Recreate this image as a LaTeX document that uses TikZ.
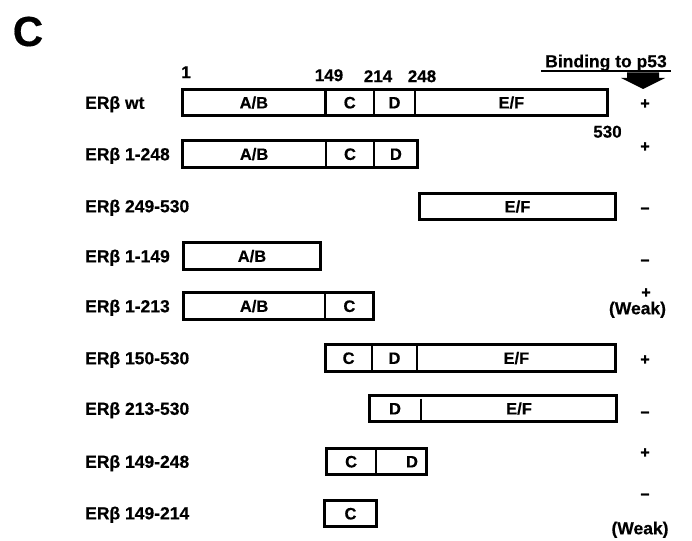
\documentclass[tikz,border=0pt]{standalone}
\usepackage{fontspec}
\setmainfont{Liberation Sans}[BoldFeatures={FakeBold=0.4}]
\newfontfamily\heavy{Liberation Sans}[BoldFeatures={FakeBold=1.6}]
\newcommand\segm[5]{\node[seg, minimum width={#3-#2}] (#1) at ({(#2+#3)/2},#4) {#5};}
\begin{document}
\begin{tikzpicture}[x=1pt,y=-1pt,
  lbl/.style={anchor=west, inner sep=0pt, font=\fontsize{17.5}{20}\selectfont\bfseries, text height=12.6pt, text depth=0pt},
  seg/.style={draw, line width=2.7pt, minimum height=26.5pt, inner sep=0pt, font=\fontsize{16.5}{19}\selectfont\bfseries, text height=11.8pt, text depth=0pt},
  num/.style={inner sep=0pt, font=\fontsize{17}{19}\selectfont\bfseries, text height=12.2pt, text depth=0pt},
  res/.style={inner sep=0pt, font=\fontsize{16}{18}\selectfont\heavy\bfseries, text height=11.5pt, text depth=0pt},
  txt/.style={inner sep=0pt, font=\fontsize{17.5}{20}\selectfont\bfseries, text height=12.6pt, text depth=0pt}]
\useasboundingbox (0,0) rectangle (692,540);
\fill[white] (0,0) rectangle (692,540);

% panel letter
\node[inner sep=0pt, font=\fontsize{42}{46}\selectfont\bfseries, text height=30pt, text depth=0pt] (panel) at (28,31) {C};

% header
\node[txt] (bind) at (606,61) {Binding to p53};
\draw[line width=1.5pt] (541,71) coordinate (ul1) -- (671,71) coordinate (ul2);
\fill (627,72.5) -- (659,72.5) -- (659,78) -- (665,78) -- (643,89) -- (621,78) -- (627,78) -- cycle;

\node[num] (n1) at (186,72) {1};
\node[num] (n149) at (329,75) {149};
\node[num] (n214) at (378,76) {214};
\node[num] (n248) at (422,76) {248};
\node[num] (n530) at (607.5,131.5) {530};

% row: wt
\node[lbl] (l1) at (85,102.5) {ERβ wt};
\segm{a1}{182.2}{325.5}{102.5}{A/B}
\segm{b1}{325.5}{374}{102.5}{C}
\segm{c1}{374}{415}{102.5}{D}
\segm{d1}{415}{607.8}{102.5}{E/F}
\node[res] (r1) at (645,103) {+};

% row: 1-248
\node[lbl] (l2) at (85,154) {ERβ 1-248};
\segm{a2}{182.2}{326}{154}{A/B}
\segm{b2}{326}{374}{154}{C}
\segm{c2}{374}{417.8}{154}{D}
\node[res] (r2) at (645,146) {+};

% row: 249-530
\node[lbl] (l3) at (85,206) {ERβ 249-530};
\segm{d3}{419.2}{615.8}{206.5}{E/F}
\node[res] (r3) at (645,207) {–};

% row: 1-149
\node[lbl] (l4) at (85,256) {ERβ 1-149};
\segm{a4}{183.2}{320.8}{256}{A/B}
\node[res] (r4) at (645,259) {–};

% row: 1-213
\node[lbl] (l5) at (85,306) {ERβ 1-213};
\segm{a5}{183.2}{325}{306}{A/B}
\segm{b5}{325}{373.8}{306}{C}
\node[res] (r5) at (646,292) {+};
\node[txt] (w5) at (637.5,308) {(Weak)};

% row: 150-530
\node[lbl] (l6) at (85,358) {ERβ 150-530};
\segm{b6}{325.2}{372}{358}{C}
\segm{c6}{372}{417}{358}{D}
\segm{d6}{417}{615.8}{358}{E/F}
\node[res] (r6) at (645,359) {+};

% row: 213-530
\node[lbl] (l7) at (85,408.5) {ERβ 213-530};
\segm{e7}{369.2}{616.8}{408.5}{}
\node[seg, draw=none] (c7) at (395,408.5) {D};
\node[seg, draw=none] (d7) at (519,408.5) {E/F};
\draw[line width=2.7pt] (421,398.5) coordinate (t7) -- (421,421.75) coordinate (u7);
\node[res] (r7) at (645,411) {–};

% row: 149-248
\node[lbl] (l8) at (85,461.5) {ERβ 149-248};
\segm{b8}{326.2}{376}{461.5}{C}
\segm{c8}{376}{426.8}{461.5}{}
\node[seg, draw=none] (c8t) at (412,461.5) {D};
\node[res] (r8) at (645,452) {+};

% row: 149-214
\node[lbl] (l9) at (85,513) {ERβ 149-214};
\segm{b9}{324.2}{376.8}{513.5}{C}
\node[res] (r9) at (645,493) {–};
\node[txt] (w9) at (640,528) {(Weak)};
\end{tikzpicture}
\end{document}
